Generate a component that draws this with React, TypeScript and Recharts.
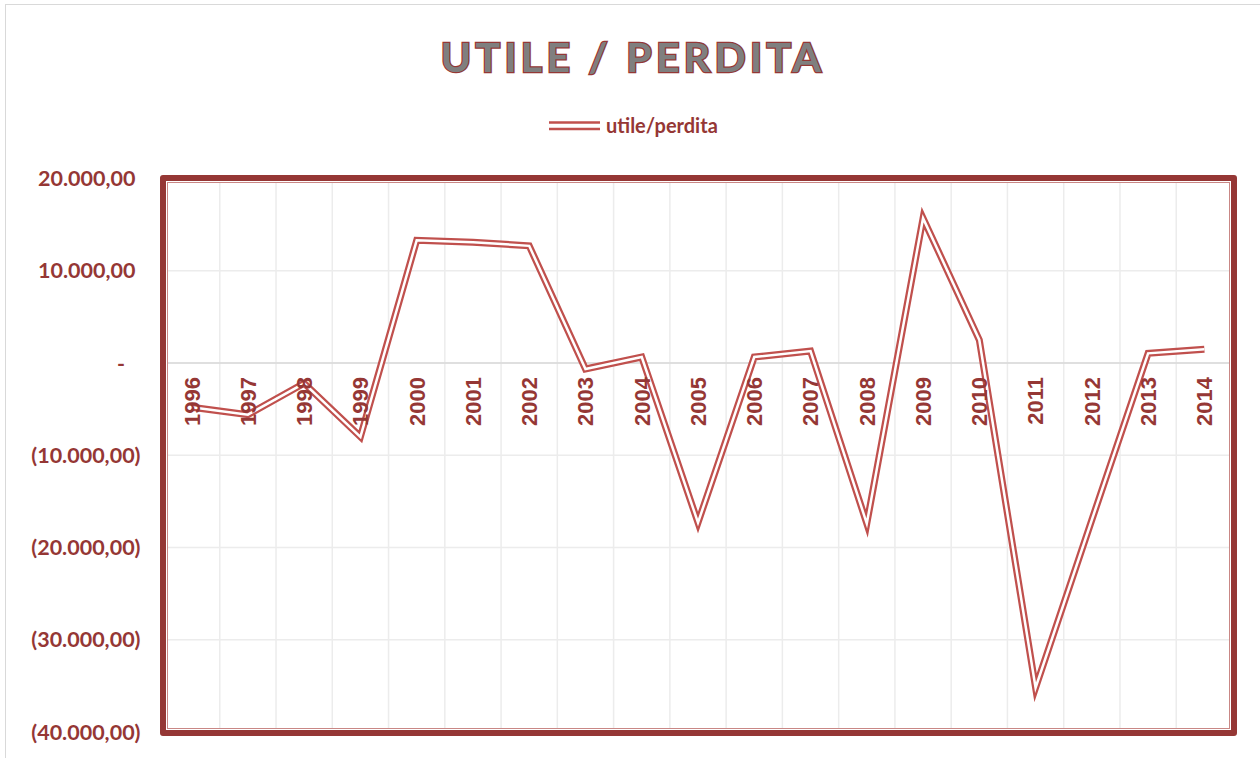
import React from "react"
import { LineChart, Line, XAxis, YAxis, CartesianGrid, ReferenceLine } from "recharts"

const years = [
  "1996", "1997", "1998", "1999", "2000", "2001", "2002", "2003", "2004", "2005",
  "2006", "2007", "2008", "2009", "2010", "2011", "2012", "2013", "2014",
]
const utilePerdita = [
  -4800, -5600, -2200, -8000, 13300, 13100, 12700, -650, 650, -17300,
  650, 1300, -17400, 15700, 2500, -35200, -17000, 1050, 1500,
]
const yTicks = [-40000, -30000, -20000, -10000, 0, 10000, 20000]

const chartData = years.map((year, i) => ({ year, value: utilePerdita[i] }))

const DARK_RED = "#953735"
const LINE_RED = "#C0504D"
const FONT = "Lato, 'Open Sans', sans-serif"

const Y_MIN = -40000
const Y_MAX = 20000
const PLOT_TOP = 178.5
const PLOT_BOTTOM = 732
const PLOT_LEFT = 163.5
const PLOT_RIGHT = 1232.5
const zeroY = PLOT_TOP + (Y_MAX / (Y_MAX - Y_MIN)) * (PLOT_BOTTOM - PLOT_TOP)
// half a category on each side so points sit in the middle of each band
const halfBand = (PLOT_RIGHT - PLOT_LEFT) / years.length / 2

function formatAccounting(v: number) {
  if (v === 0) return "-"
  const s = Math.abs(v).toLocaleString("it-IT", { minimumFractionDigits: 2, maximumFractionDigits: 2 })
  return v < 0 ? `(${s})` : s
}

function YTick({ x, y, payload }: any) {
  const v = payload.value as number
  const endX = v === 0 ? x - 38.5 : v < 0 ? x - 23 : x - 28
  return (
    <text x={endX} y={y} dy="0.36em" textAnchor="end" fill={DARK_RED} fontFamily={FONT} fontWeight={700} fontSize={21.5}>
      {formatAccounting(v)}
    </text>
  )
}

function XTick({ x, payload }: any) {
  const ty = zeroY + 14
  return (
    <text
      x={x}
      y={ty}
      transform={`rotate(-90 ${x} ${ty})`}
      textAnchor="end"
      dy="0.36em"
      fill={DARK_RED}
      fontFamily="'Liberation Sans', Arial, sans-serif"
      fontWeight={700}
      fontSize={22}
    >
      {payload.value}
    </text>
  )
}

export default function App() {
  return (
    <div style={{ position: "absolute", left: 0, top: 0, width: 1260, height: 758, background: "#fff", overflow: "hidden" }}>
      <div style={{ position: "absolute", left: 5, top: 4, width: 1300, height: 800, borderLeft: "1px solid #d9d9d9", borderTop: "1px solid #d9d9d9" }} />

      <svg width={1260} height={150} style={{ position: "absolute", left: 0, top: 0 }}>
        <text
          x={633}
          y={72}
          textAnchor="middle"
          fontFamily={FONT}
          fontWeight={700}
          fontSize={41}
          letterSpacing={4.3}
          fill="#7F7F7F"
          stroke={DARK_RED}
          strokeWidth={2.5}
          style={{ paintOrder: "stroke" }}
        >
          UTILE / PERDITA
        </text>
        <line x1={549} x2={600} y1={122.5} y2={122.5} stroke={LINE_RED} strokeWidth={2.5} />
        <line x1={549} x2={600} y1={129} y2={129} stroke={LINE_RED} strokeWidth={2.5} />
        <text x={606} y={133} fontFamily={FONT} fontWeight={700} fontSize={20} fill={DARK_RED}>
          utile/perdita
        </text>
      </svg>

      <div style={{ position: "absolute", left: 0, top: 0 }}>
        <LineChart
          width={1260}
          height={758}
          data={chartData}
          margin={{ top: PLOT_TOP, right: 1260 - PLOT_RIGHT, bottom: 0, left: 0 }}
        >
          <CartesianGrid
            stroke="#ececec"
            strokeWidth={1.5}
            verticalCoordinatesGenerator={({ offset }: any) =>
              Array.from({ length: years.length + 1 }, (_, i) => offset.left + (i * offset.width) / years.length)
            }
          />
          <XAxis
            dataKey="year"
            height={758 - PLOT_BOTTOM}
            axisLine={false}
            tickLine={false}
            interval={0}
            padding={{ left: halfBand, right: halfBand }}
            tick={<XTick />}
          />
          <YAxis
            width={PLOT_LEFT}
            domain={[Y_MIN, Y_MAX]}
            ticks={yTicks}
            axisLine={false}
            tickLine={false}
            tickSize={0}
            tickMargin={0}
            tick={<YTick />}
          />
          <ReferenceLine y={0} stroke="#d9d9d9" strokeWidth={1.5} />
          <Line
            type="linear"
            dataKey="value"
            stroke={LINE_RED}
            strokeWidth={7}
            strokeLinejoin="miter"
            strokeMiterlimit={20}
            dot={false}
            activeDot={false}
            isAnimationActive={false}
          />
          <Line
            type="linear"
            dataKey="value"
            stroke="#ffffff"
            strokeWidth={2.5}
            strokeLinejoin="miter"
            strokeMiterlimit={20}
            dot={false}
            activeDot={false}
            legendType="none"
            isAnimationActive={false}
          />
        </LineChart>
      </div>

      <div
        style={{
          position: "absolute",
          left: 160,
          top: 175,
          width: 1237 - 160,
          height: 736 - 175,
          boxSizing: "border-box",
          border: `6px solid ${DARK_RED}`,
          borderRadius: 3,
          boxShadow: "inset 0 0 0 1px #ffffff, inset 0 0 0 2px #c98785",
          pointerEvents: "none",
        }}
      />
    </div>
  )
}
